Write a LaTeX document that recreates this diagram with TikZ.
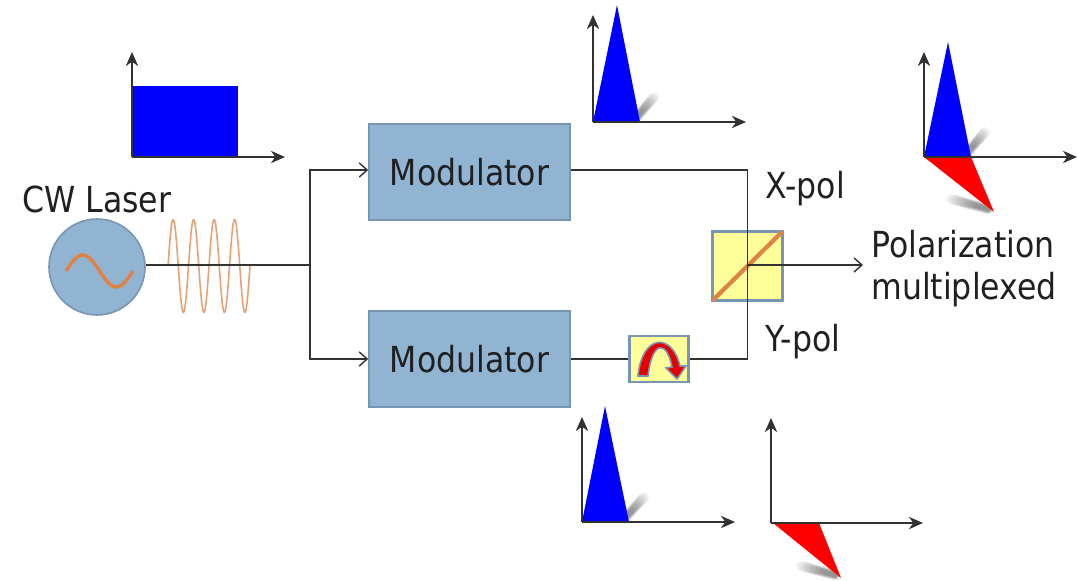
\documentclass[tikz,border=0pt]{standalone}
\usepackage{fontspec}
\setmainfont[FakeStretch=0.88]{DejaVu Sans}
\usetikzlibrary{arrows.meta,positioning,calc}
\definecolor{modblue}{RGB}{146,180,211}
\definecolor{modedge}{RGB}{120,150,178}
\definecolor{boxyellow}{RGB}{255,255,153}
\definecolor{waveorange}{RGB}{222,130,70}
\definecolor{darkline}{RGB}{50,50,50}
\definecolor{darktext}{RGB}{32,32,32}
\newcommand{\pulseshadow}[2]{
  \foreach \frc in {1,0.95,...,0.25}{
    \draw[line width=1pt+5pt*\frc,line cap=round,black,opacity=0.035] #1 -- ($#1!\frc!#2$);
  }
}
\tikzset{
	block/.style={
		rectangle,
		draw=modedge,
		fill=modblue,
		line width=0.9pt,
		minimum width=40.2mm,
		minimum height=19.3mm,
		inner sep=0pt,
		text=darktext,
		font=\fontsize{20.4}{24}\selectfont,
	},
	source/.style={
		circle,
		draw=modedge,
		fill=modblue,
		line width=0.9pt,
		minimum size=19.2mm,
		inner sep=0pt,
	},
	splitbox/.style={
		rectangle,
		draw=modedge,
		fill=boxyellow,
		line width=1.4pt,
		minimum width=14mm,
		minimum height=13.8mm,
		inner sep=0pt,
	},
	phasebox/.style={
		splitbox,
		minimum width=11.8mm,
		minimum height=9.2mm,
	},
	tag/.style={
		inner sep=0pt,
		text=darktext,
		font=\fontsize{20.4}{24}\selectfont,
	},
	link/.style={
		draw=darkline,
		line width=0.8pt,
	},
	feed/.style={
		link,
		-{Straight Barb[length=4.5pt,width=8pt]},
	},
	axis/.style={
		draw=darkline,
		line width=1.2pt,
		-{Stealth[length=8pt,width=7pt,inset=2.5pt]},
	},
}
\begin{document}
\begin{tikzpicture}[x=0.2mm,y=-0.2mm]
\useasboundingbox (0,0) rectangle (1078,581);

% blocks
\node[source] (laser) at (97,267) {};
\node[block] (modx) at (469.5,172) {Modulator};
\node[block] (mody) at (469.5,359) {Modulator};
\node[splitbox] (splitter) at (747.5,266) {};
\node[phasebox] (phase) at (659,359) {};
\coordinate (fork) at (310,265);
\coordinate (outlet) at (863,265);

% carrier waves
\draw[waveorange,line width=2pt] plot[domain=0:1,samples=50,smooth] ({66+\x*67},{271-16*sin(\x*360)});
\draw[waveorange!75!white,line width=0.9pt,line join=round] plot[domain=0:82,samples=161] ({168+\x},{266-46.5*sin(\x/20.5*360)});

% connectors
\draw[link] (laser.east |- fork) -- (fork);
\draw[feed] (fork) |- (modx.west |- 0,170);
\draw[feed] (fork) |- (mody);
\draw[waveorange,line width=2.4pt,shorten <=1pt,shorten >=1pt] (splitter.south west) -- (splitter.north east);
\draw[link] (modx.east |- 0,170) -| (splitter.center);
\draw[link] (mody) -- (phase);
\draw[link] (phase.east) -| (splitter.center);
\draw[feed] (splitter.center |- outlet) -- (outlet);

% phase shifter
\filldraw[fill=red!90!black,draw=modedge,line width=0.9pt] (638,376) .. controls (642,334) and (672,332) .. (680,366) -- (686,366) -- (677,379) -- (666,368) -- (672,367) .. controls (667,340) and (652,340) .. (648,376) -- cycle;

% labels
\node[tag,anchor=base west] (laserlabel) at (22,212) {CW Laser};
\node[tag,anchor=base west] (xlabel) at (765,198) {X-pol};
\node[tag,anchor=base west] (ylabel) at (765,351) {Y-pol};
\node[tag,anchor=base west] (outlabel) at (871,257) {Polarization};
\node[tag,anchor=base west] (outlabelb) at (871,299) {multiplexed};

% input pulse
\fill[blue] (133,86) rectangle (238,157);
\draw[axis] (132,157) -- (132,52);
\draw[axis] (132,157) -- (285,157);

% pulse after upper modulator
\pulseshadow{(636,118)}{(654,97)}
\fill[blue] (593,122) -- (617,5) -- (640,122) -- cycle;
\draw[axis] (593,122) -- (593,15);
\draw[axis] (593,122) -- (746,122);

% multiplexed pulses
\pulseshadow{(967,153)}{(985,132)}
\pulseshadow{(988,209)}{(951,199)}
\fill[blue] (924,157) -- (948,42) -- (971,157) -- cycle;
\fill[red] (924,157) -- (971,157) -- (994,212) -- cycle;
\draw[axis] (924,157) -- (924,52);
\draw[axis] (924,157) -- (1077,157);

% pulse after lower modulator
\pulseshadow{(625,518)}{(644,497)}
\fill[blue] (582,522) -- (605,406) -- (629,522) -- cycle;
\draw[axis] (582,522) -- (582,417);
\draw[axis] (582,522) -- (735,522);

% rotated pulse
\pulseshadow{(835,575)}{(801,566)}
\fill[red] (773,523) -- (819,523) -- (841,578) -- cycle;
\draw[axis] (771,523) -- (771,418);
\draw[axis] (771,523) -- (923,523);

\end{tikzpicture}
\end{document}
